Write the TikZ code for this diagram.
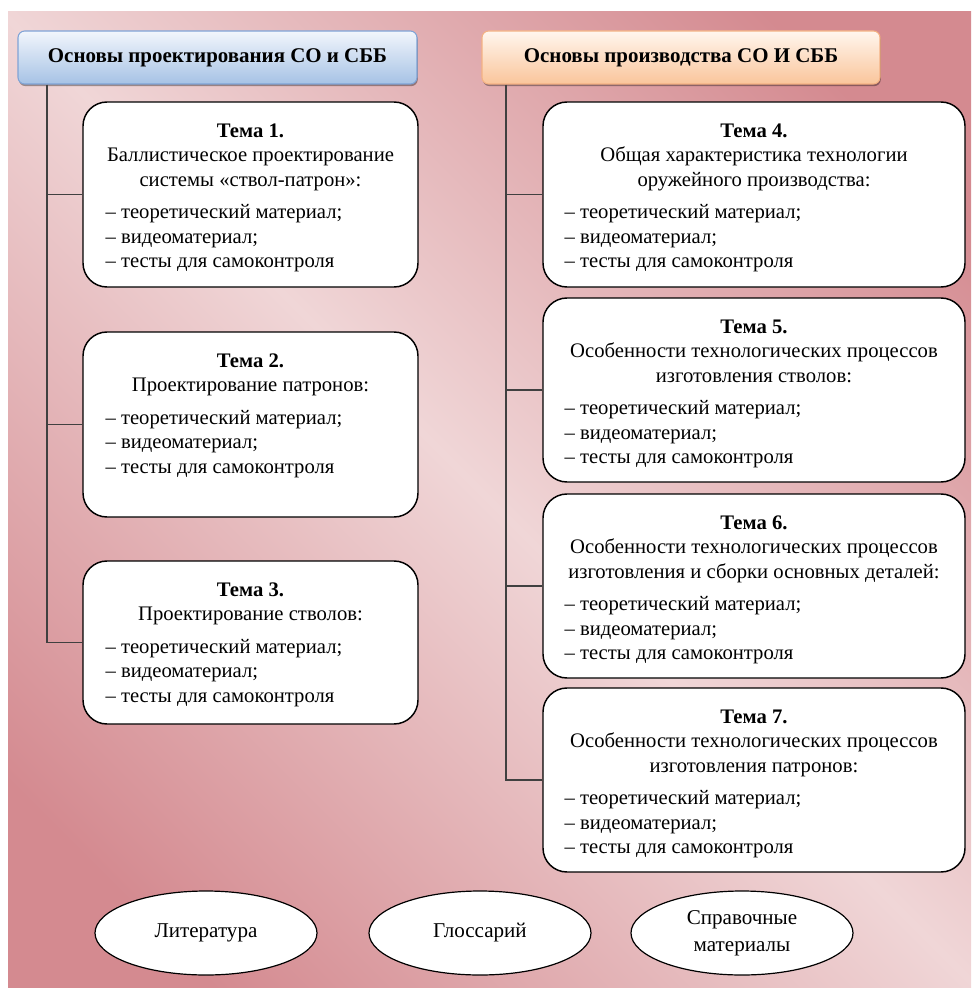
\documentclass[tikz,border=0pt]{standalone}
\usepackage{fontspec}
\setmainfont{Liberation Serif}
\usetikzlibrary{shapes.geometric,shadows,calc}
\definecolor{bgdark}{HTML}{D48A90}
\definecolor{bglight}{HTML}{F0D6D7}
\definecolor{bluetop}{HTML}{F2F6FC}
\definecolor{bluebot}{HTML}{A6C2E5}
\definecolor{blueedge}{HTML}{7FA3D6}
\definecolor{orgtop}{HTML}{FFF6EE}
\definecolor{orgbot}{HTML}{FAC59B}
\definecolor{orgedge}{HTML}{F4B183}
\pgfdeclarehorizontalshading{bgshade}{100bp}{color(0bp)=(bgdark); color(22bp)=(bgdark); color(50bp)=(bglight); color(78bp)=(bgdark); color(100bp)=(bgdark)}
\newcommand\txf{\fontsize{15.5}{18.3}\selectfont}
\newcommand\ovf{\fontsize{15.8}{20.2}\selectfont}
\newcommand\hdf{\fontsize{15.7}{18.3}\selectfont\bfseries}
\tikzset{
  topicbox/.style={draw=black, line width=1.1pt, fill=white, rounded corners=18pt, inner sep=0pt},
  headbox/.style={line width=0.8pt, rounded corners=5pt, inner sep=0pt,
     minimum height={53*0.75pt}, font=\hdf,
     drop shadow={shadow xshift=0.6pt, shadow yshift=-1.6pt, fill=black, opacity=0.35}},
  bluehead/.style={headbox, draw=blueedge, top color=bluetop, bottom color=bluebot},
  orghead/.style={headbox, draw=orgedge, top color=orgtop, bottom color=orgbot},
  titletext/.style={anchor=north, inner sep=0pt, align=center, font=\txf},
  listtext/.style={anchor=north west, inner sep=0pt, align=left, font=\txf},
  conn/.style={draw=black!75, line width=1pt},
  oval/.style={ellipse, draw=black, line width=0.9pt, fill=white, inner sep=0pt,
     minimum width={222*0.75pt}, minimum height={84*0.75pt}, align=center, font=\ovf}
}
\begin{document}
\begin{tikzpicture}[x=0.75pt,y=-0.75pt]
\useasboundingbox (0,0) rectangle (971,988);
\fill[white] (0,0) rectangle (971,988);
\shade[shading=bgshade, shading angle=45] (8,12) rectangle (971,988);

% headers
\node[bluehead, minimum width={399*0.75pt}] (h1) at (217.5,57.5) {Основы проектирования СО и СББ};
\node[orghead, minimum width={398*0.75pt}] (h2) at (681,57.5) {Основы производства СО И СББ};

% topic boxes
\node[topicbox, minimum width={335*0.75pt}, minimum height={185*0.75pt}] (t1) at (250.5,194.5) {};
\node[topicbox, minimum width={335*0.75pt}, minimum height={185*0.75pt}] (t2) at (250.5,424.5) {};
\node[topicbox, minimum width={335*0.75pt}, minimum height={163*0.75pt}] (t3) at (250.5,642.5) {};
\node[topicbox, minimum width={422*0.75pt}, minimum height={185*0.75pt}] (t4) at (754,194.5) {};
\node[topicbox, minimum width={422*0.75pt}, minimum height={184*0.75pt}] (t5) at (754,390) {};
\node[topicbox, minimum width={422*0.75pt}, minimum height={184*0.75pt}] (t6) at (754,586) {};
\node[topicbox, minimum width={422*0.75pt}, minimum height={184*0.75pt}] (t7) at (754,780) {};

% titles
\node[titletext] (t1t) at ($(t1.north)+(0,18.9)$) {\strut\textbf{Тема 1.}\\Баллистическое проектирование\\системы «ствол-патрон»:};
\node[titletext] (t2t) at ($(t2.north)+(0,18.9)$) {\strut\textbf{Тема 2.}\\Проектирование патронов:};
\node[titletext] (t3t) at ($(t3.north)+(0,18.9)$) {\strut\textbf{Тема 3.}\\Проектирование стволов:};
\node[titletext] (t4t) at ($(t4.north)+(0,18.9)$) {\strut\textbf{Тема 4.}\\Общая характеристика технологии\\оружейного производства:};
\node[titletext] (t5t) at ($(t5.north)+(0,18.9)$) {\strut\textbf{Тема 5.}\\Особенности технологических процессов\\изготовления стволов:};
\node[titletext] (t6t) at ($(t6.north)+(0,18.9)$) {\strut\textbf{Тема 6.}\\Особенности технологических процессов\\изготовления и сборки основных деталей:};
\node[titletext] (t7t) at ($(t7.north)+(0,18.9)$) {\strut\textbf{Тема 7.}\\Особенности технологических процессов\\изготовления патронов:};

% lists
\newcommand\lst{\strut– теоретический материал;\\– видеоматериал;\\– тесты для самоконтроля}
\node[listtext] (t1l) at ($(t1.north west)+(23,100.3)$) {\lst};
\node[listtext] (t2l) at ($(t2.north west)+(23,75.6)$) {\lst};
\node[listtext] (t3l) at ($(t3.north west)+(23,75.6)$) {\lst};
\node[listtext] (t4l) at ($(t4.north west)+(22,100.3)$) {\lst};
\node[listtext] (t5l) at ($(t5.north west)+(22,100.3)$) {\lst};
\node[listtext] (t6l) at ($(t6.north west)+(22,100.3)$) {\lst};
\node[listtext] (t7l) at ($(t7.north west)+(22,100.3)$) {\lst};

% connectors
\coordinate (lx) at (h1.south -| 47,0);
\coordinate (rx) at (h2.south -| 506,0);
\draw[conn] (lx) |- (t3.west);
\draw[conn] (lx |- t1.west) -- (t1.west);
\draw[conn] (lx |- t2.west) -- (t2.west);
\draw[conn] (rx) |- (t7.west);
\draw[conn] (rx |- t4.west) -- (t4.west);
\draw[conn] (rx |- t5.west) -- (t5.west);
\draw[conn] (rx |- t6.west) -- (t6.west);

% ovals
\node[oval] (e1) at (206,933) {Литература};
\node[oval] (e2) at (480,933) {Глоссарий};
\node[oval] (e3) at (742,933) {Справочные\\материалы};
\end{tikzpicture}
\end{document}
